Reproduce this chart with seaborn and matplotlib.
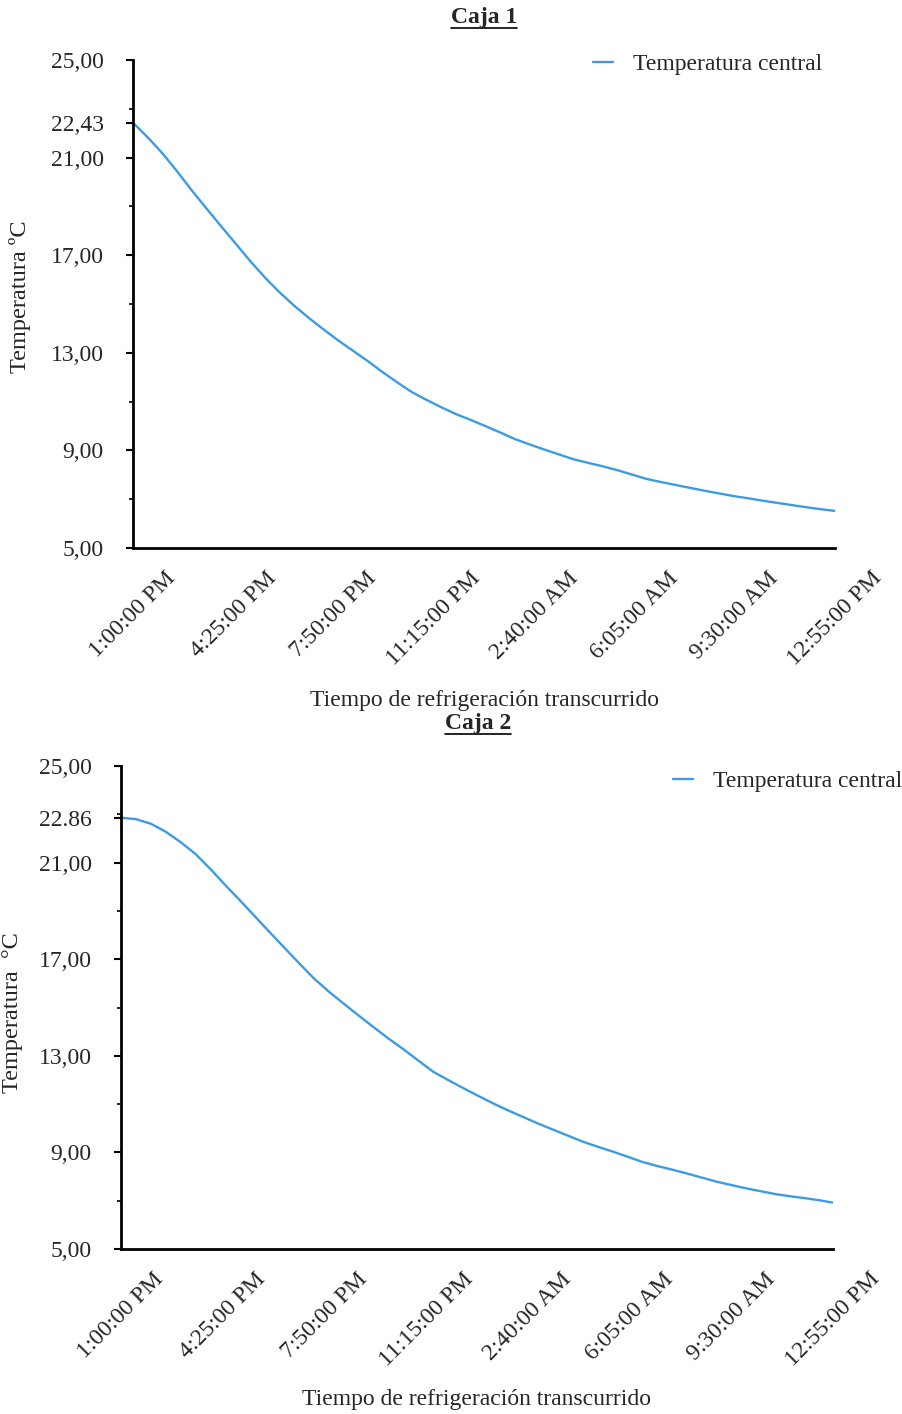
import matplotlib
matplotlib.use("Agg")
import matplotlib.pyplot as plt
from matplotlib.lines import Line2D
from matplotlib.ticker import FixedLocator
import seaborn as sns
import pandas as pd

# minutos transcurridos desde 1:00:00 PM
minutos = [0, 30, 60, 90, 120, 150, 180, 210, 240, 270, 300, 330, 360, 390,
           420, 450, 480, 510, 540, 570, 600, 630, 660, 690, 720, 750, 780,
           810, 840, 870, 900, 930, 960, 990, 1020, 1050, 1080, 1110, 1140,
           1170, 1200, 1230, 1260, 1290, 1320, 1350, 1380, 1410, 1435]

temp_caja1 = [22.43, 21.83, 21.18, 20.44, 19.66, 18.92, 18.19, 17.47, 16.75,
              16.08, 15.47, 14.92, 14.42, 13.95, 13.50, 13.08, 12.66, 12.21,
              11.79, 11.39, 11.07, 10.77, 10.49, 10.25, 10.00, 9.74, 9.47,
              9.25, 9.04, 8.84, 8.64, 8.49, 8.35, 8.19, 8.01, 7.83, 7.70,
              7.58, 7.46, 7.34, 7.23, 7.12, 7.03, 6.93, 6.84, 6.75, 6.66,
              6.58, 6.52]

temp_caja2 = [22.86, 22.80, 22.61, 22.28, 21.85, 21.36, 20.74, 20.07, 19.43,
              18.77, 18.11, 17.46, 16.81, 16.18, 15.64, 15.14, 14.65, 14.17,
              13.70, 13.26, 12.79, 12.33, 11.99, 11.66, 11.34, 11.03, 10.74,
              10.47, 10.20, 9.95, 9.70, 9.45, 9.24, 9.04, 8.83, 8.61, 8.44,
              8.29, 8.13, 7.96, 7.79, 7.65, 7.51, 7.39, 7.27, 7.18, 7.10,
              7.01, 6.92]

tick_min = [0, 205, 410, 615, 820, 1025, 1230, 1435]
tick_horas = ["1:00:00 PM", "4:25:00 PM", "7:50:00 PM", "11:15:00 PM",
              "2:40:00 AM", "6:05:00 AM", "9:30:00 AM", "12:55:00 PM"]

y_major = [5, 9, 13, 17, 21, 25]
y_minor = [7, 11, 15, 19, 23]

sns.set_theme(style="white")
plt.rcParams["font.family"] = ["Liberation Serif", "DejaVu Serif"]
plt.rcParams["font.size"] = 17

AZUL = "#3D9BE3"
FS = 17

fig = plt.figure(figsize=(9.02, 14.14), dpi=100)


def dibujar_caja(rect, temps, inicio_lbl, titulo, ylabel, ylab_x, ylab_y,
                 leg_xy, tit_xy):
    ax = fig.add_axes(rect)
    df = pd.DataFrame({"min": minutos, "temp": temps})
    sns.lineplot(data=df, x="min", y="temp", ax=ax, color=AZUL, linewidth=1.7,
                 label="Temperatura central")

    ax.set_xlim(0, 1435)
    ax.set_ylim(5, 25)

    # eje y: mayores + valor inicial
    yt = y_major + [temps[0]]
    yl = [f"{v:.2f}".replace(".", ",") for v in y_major] + [inicio_lbl]
    ax.set_yticks(yt)
    ax.set_yticklabels(yl)
    ax.yaxis.set_minor_locator(FixedLocator(y_minor))
    ax.tick_params(axis="y", which="major", direction="out", length=5,
                   width=1.5, color="black", pad=16, labelsize=FS, left=True)
    ax.tick_params(axis="y", which="minor", direction="out", length=3,
                   width=1.2, color="black", left=True)

    ax.set_xticks(tick_min)
    ax.set_xticklabels(tick_horas, rotation=45, ha="center")
    ax.tick_params(axis="x", length=0, pad=14, labelsize=FS)

    for s in ["top", "right"]:
        ax.spines[s].set_visible(False)
    for s in ["left", "bottom"]:
        ax.spines[s].set_color("black")
        ax.spines[s].set_linewidth(2)

    ax.set_xlabel("Tiempo de refrigeración transcurrido", fontsize=FS)
    ax.xaxis.set_label_coords(0.5, -0.29)
    ax.set_ylabel(ylabel, fontsize=17.5)
    ax.yaxis.set_label_coords(ylab_x, ylab_y)

    ax.legend(loc="center left", bbox_to_anchor=leg_xy,
              bbox_transform=fig.transFigure, frameon=False, fontsize=FS,
              handlelength=0.85, handletextpad=0.85, borderpad=0,
              borderaxespad=0)

    t = fig.text(tit_xy[0], tit_xy[1], titulo, ha="center", va="center",
                 fontsize=FS, fontweight="bold")
    return ax, t


ax1, t1 = dibujar_caja([133 / 902, 1 - 548 / 1414, 702 / 902, 488 / 1414],
                       temp_caja1, "22,43", "Caja 1", "Temperatura ºC",
                       -0.145, 0.514, (593 / 902, 1 - 64 / 1414),
                       (484 / 902, 1 - 18 / 1414))
ax2, t2 = dibujar_caja([121 / 902, 1 - 1249 / 1414, 712 / 902, 483 / 1414],
                       temp_caja2, "22.86", "Caja 2", "Temperatura  °C",
                       -0.137, 0.49, (673 / 902, 1 - 781 / 1414),
                       (478 / 902, 1 - 724 / 1414))

# subrayado de los títulos
fig.canvas.draw()
r = fig.canvas.get_renderer()
for t in (t1, t2):
    bb = t.get_window_extent(r)
    y = bb.y0 + 1
    fig.add_artist(Line2D([bb.x0, bb.x1], [y, y], transform=None,
                          color="black", linewidth=1.2))

fig.savefig("out.png", dpi=100)
